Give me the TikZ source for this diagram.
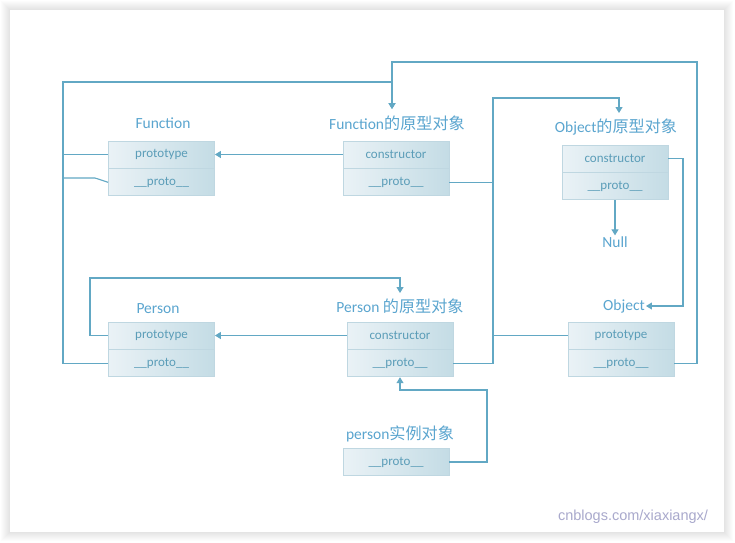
\documentclass[tikz,border=0pt]{standalone}
\usepackage{fontspec}
\setmainfont{Carlito}
\newfontfamily\cjk[Scale=1.04]{Noto Sans CJK SC}
\newfontfamily\wmfont{Liberation Sans}
\usetikzlibrary{arrows.meta,positioning}
\definecolor{wire}{HTML}{62A8C4}
\definecolor{ttltext}{HTML}{5AA5CF}
\definecolor{celltext}{HTML}{5B9DB8}
\definecolor{cellline}{HTML}{BFD7E1}
\definecolor{cellL}{HTML}{EAF2F6}
\definecolor{cellR}{HTML}{C4DCE5}
\definecolor{wmark}{HTML}{A9A9CC}
\tikzset{
  cell/.style={draw=cellline, line width=0.8pt, left color=cellL, right color=cellR,
               minimum width=106pt, minimum height=27pt, inner sep=0pt,
               font=\fontsize{13}{15}\selectfont, text=celltext},
  ttl/.style={font=\fontsize{15.5}{18}\selectfont, text=ttltext, inner sep=1pt},
  link/.style={draw=wire, line width=1.1pt},
  ptr/.style={link, -{Triangle[length=6pt,width=7pt]}},
}
\newcommand{\proto}{\_\_proto\_\_}
\begin{document}
\begin{tikzpicture}[x=1pt, y=-1pt]
  \useasboundingbox (0,0) rectangle (735,542);
  % page with shadow
  \fill[white] (0,0) rectangle (735,542);
  \foreach \i in {1,...,9}
    \fill[black, opacity=0.012] ({10-\i},{10-\i}) rectangle ({724+\i},{532+\i});
  \fill[white] (10,10) rectangle (724,532);

  % Function
  \node[ttl] (fnl) at (163,123) {Function};
  \node[cell] (fnp) at (161.5,154.5) {prototype};
  \node[cell, below=0pt of fnp] (fnq) {\proto};
  % Function prototype object
  \node[ttl] (fpl) at (397,123) {Function{\cjk 的原型对象}};
  \node[cell] (fpc) at (396,154.5) {constructor};
  \node[cell, below=0pt of fpc] (fpq) {\proto};
  % Object prototype object
  \node[ttl] (opl) at (616,127) {Object{\cjk 的原型对象}};
  \node[cell] (opc) at (615,158.5) {constructor};
  \node[cell, below=0pt of opc] (opq) {\proto};
  \node[ttl] (null) at (615,242) {Null};
  % Person
  \node[ttl] (psl) at (158,309) {Person};
  \node[cell] (psp) at (161.5,335.5) {prototype};
  \node[cell, below=0pt of psp] (psq) {\proto};
  % Person prototype object
  \node[ttl] (ppl) at (400,306) {Person {\cjk 的原型对象}};
  \node[cell] (ppc) at (400,335.5) {constructor};
  \node[cell, below=0pt of ppc] (ppq) {\proto};
  % Object
  \node[ttl] (obl) at (624,306) {Object};
  \node[cell] (obp) at (621,335.5) {prototype};
  \node[cell, below=0pt of obp] (obq) {\proto};
  % person instance
  \node[ttl] (pil) at (400,434) {person{\cjk 实例对象}};
  \node[cell] (piq) at (396,462) {\proto};

  \coordinate (fpin) at (392,109);
  \coordinate (opin) at (619,113);
  \coordinate (ppin) at (400,293);
  \coordinate (midbus) at (493,0);

  % constructor -> prototype
  \draw[ptr] (fpc.west) -- (fnp.east);
  \draw[ptr] (ppc.west) -- (psp.east);
  % into Function prototype object
  \draw[link] (fnp.west) -- (63,154.5);
  \draw[link] (fnq.west) -- (95,178) -- (63,178);
  \draw[ptr] (psq.west) -| (63,82) -| (fpin);
  \draw[ptr] (obq.east) -| (697,62) -| (fpin);
  % into Person prototype object
  \draw[ptr] (psp.west) -| (90,278) -| (ppin);
  \draw[ptr] (piq.east) -| (487,390) -| (ppq.south);
  % into Object prototype object
  \draw[link] (fpq.east) -- (fpq.east -| midbus);
  \draw[link] (ppq.east) -| (493,335.5);
  \draw[ptr] (obp.west) -| (493,98) -| (opin);
  % Object prototype object
  \draw[ptr] (opc.east) -| (683,306) -- (obl.east);
  \draw[ptr] (opq.south) -- (null.north);

  \node[font=\wmfont\fontsize{14.5}{17}\selectfont, text=wmark] (wm) at (633,517) {cnblogs.com/xiaxiangx/};
\end{tikzpicture}
\end{document}
